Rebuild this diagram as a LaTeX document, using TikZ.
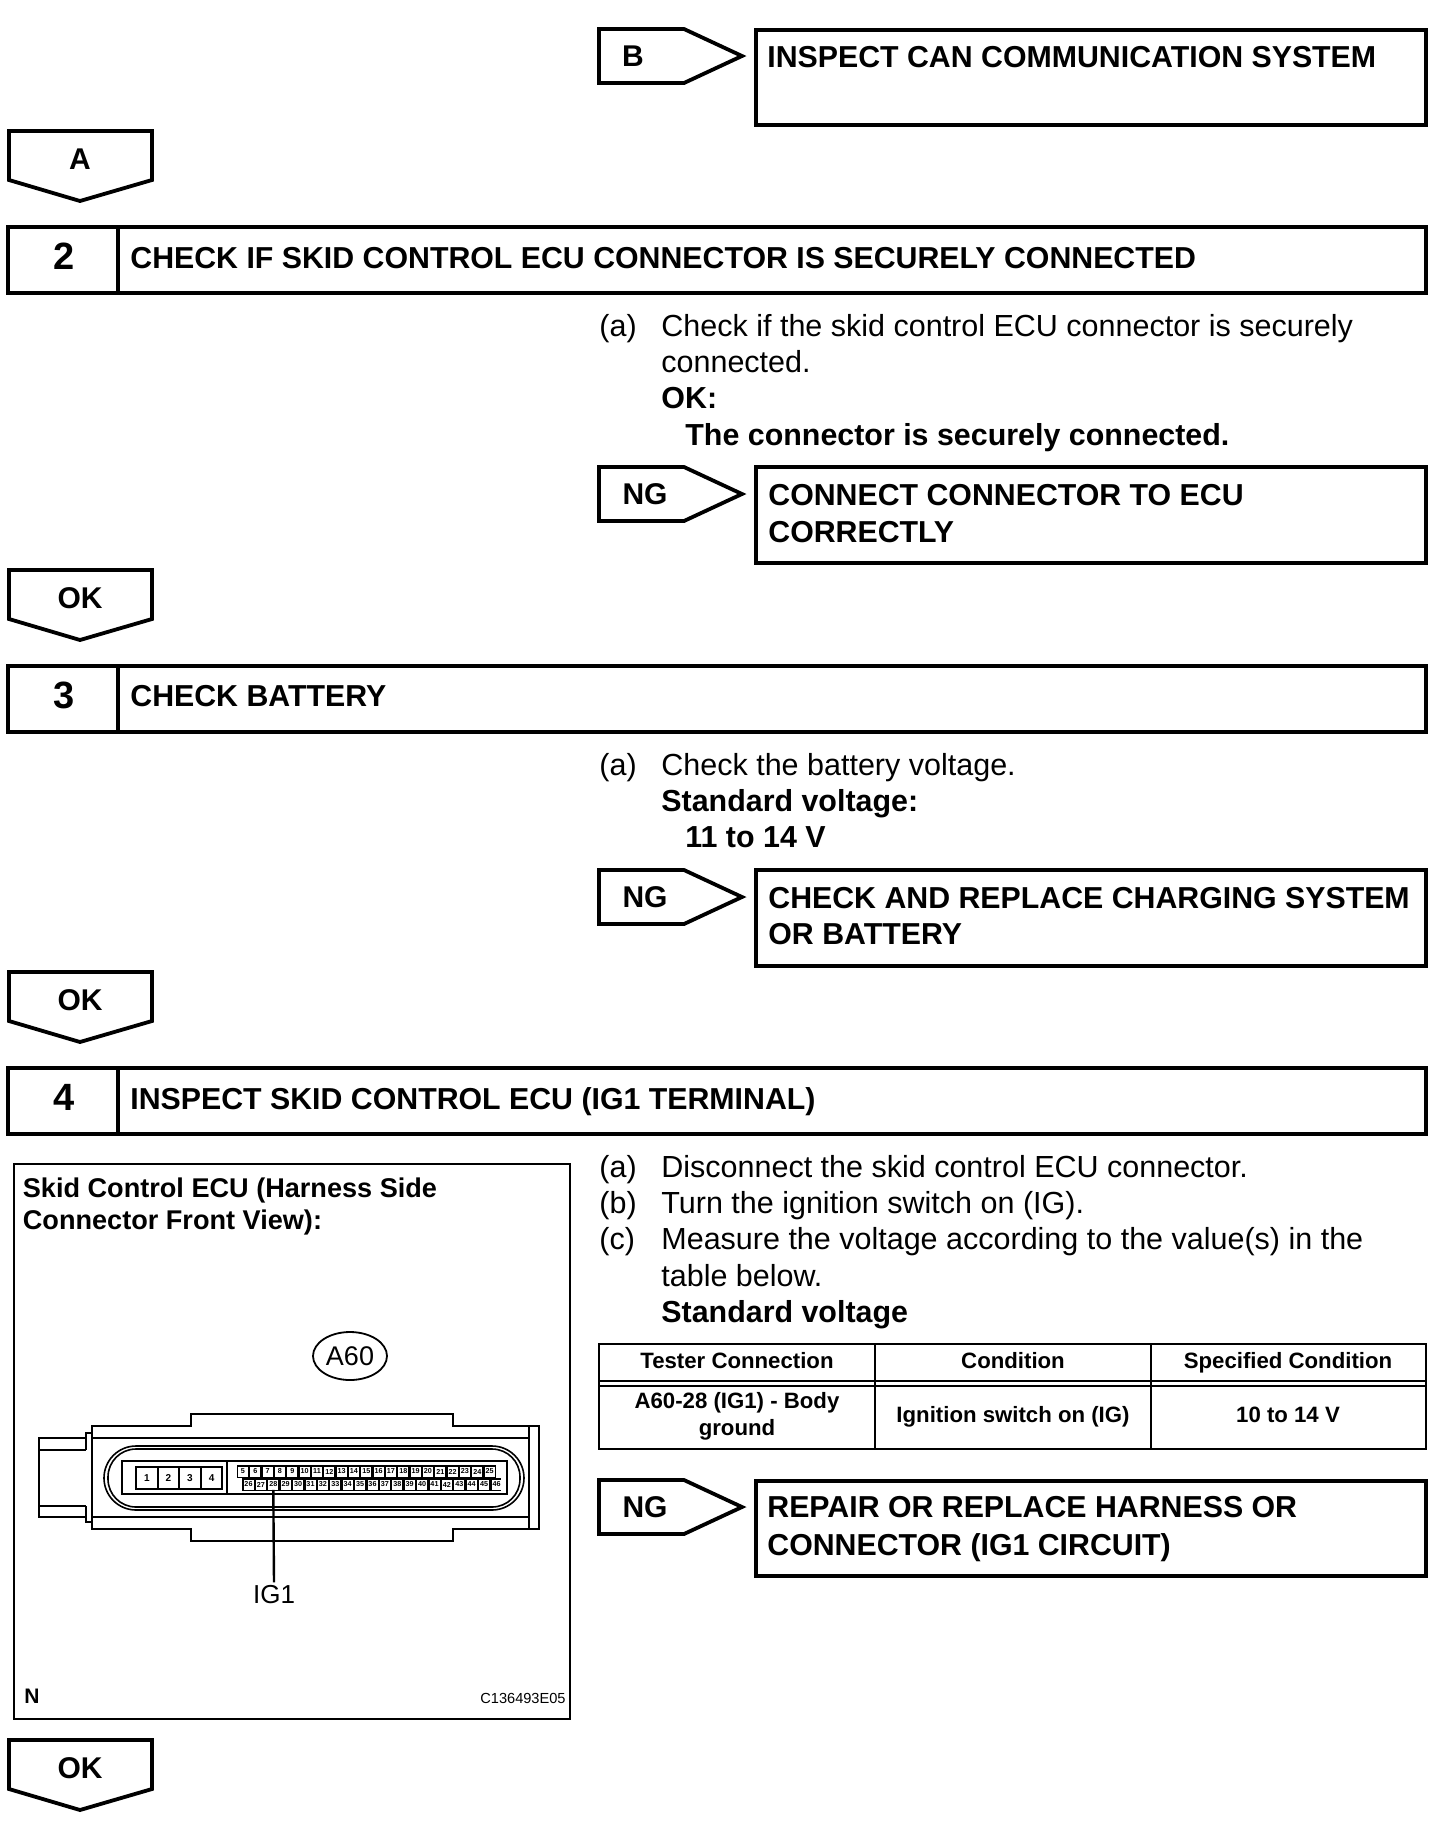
\documentclass[tikz,border=0pt]{standalone}
\usepackage{fontspec}
\setmainfont{Liberation Sans}
\usepackage{xcolor}
\usetikzlibrary{positioning,calc,shapes.geometric}

\begin{document}
\begin{tikzpicture}[x=0.5pt,y=-0.5pt,
    boxline/.style={line width=1.9pt,line join=miter},
    thinline/.style={line width=0.8pt},
    bodytxt/.style={anchor=base west,inner sep=0pt,yshift=1pt,font=\fontsize{15.25}{17}\selectfont},
    boldtxt/.style={anchor=base west,inner sep=0pt,yshift=1pt,font=\fontsize{15.2}{17}\selectfont\bfseries},
    headtxt/.style={anchor=base west,inner sep=0pt,yshift=1pt,font=\fontsize{15.15}{17}\selectfont\bfseries},
    numtxt/.style={anchor=base,inner sep=0pt,yshift=1pt,xshift=0.5pt,font=\fontsize{19}{20}\selectfont\bfseries},
    tagtxt/.style={anchor=base,inner sep=0pt,font=\fontsize{15}{17}\selectfont\bfseries},
    celltxt/.style={anchor=base,inner sep=0pt,font=\fontsize{11.1}{12}\selectfont\bfseries},
    paneltxt/.style={anchor=base west,inner sep=0pt,font=\fontsize{13.55}{14}\selectfont\bfseries},
    pintxt/.style={inner sep=0pt,font=\fontsize{5}{5}\selectfont\bfseries},
    pincell/.style={fill=white,minimum width=5pt,minimum height=5pt,inner sep=0pt,font=\fontsize{3.6}{4}\selectfont\bfseries}]
  \useasboundingbox (0,0) rectangle (1456,1832);
  % tags pointing right, in front of the result boxes
  \foreach \nm/\y/\lab/\lx in {tagb/29/B/633,ngone/467/NG/645,ngtwo/870/NG/645,ngthree/1480/NG/645}{
    \draw[boxline] (599,\y) -- (684,\y) -- (742,\y+27) -- (684,\y+54) -- (599,\y+54) -- cycle;
    \node[tagtxt] (\nm) at (\lx,\y+37) {\lab};}
  % tags pointing down, between the steps
  \foreach \nm/\y/\lab in {taga/131/A,okone/570/OK,oktwo/972/OK,okthree/1740/OK}{
    \draw[boxline] (9,\y) -- (152,\y) -- (152,\y+49) -- (80,\y+70) -- (9,\y+49) -- cycle;
    \node[tagtxt] (\nm) at (80,\y+38) {\lab};}
  % step bars
  \foreach \nm/\y/\num in {bartwo/227/2,barthree/666/3,barfour/1068/4}{
    \draw[boxline] (8,\y) rectangle (1426,\y+66);
    \draw[boxline] (118,\y) -- (118,\y+66);
    \node[numtxt] (\nm) at (63,\y+44) {\num};}
  \node[headtxt] (headtwo) at (130,270) {CHECK IF SKID CONTROL ECU CONNECTOR IS SECURELY CONNECTED};
  \node[headtxt] (headthree) at (130,708) {CHECK BATTERY};
  \node[headtxt] (headfour) at (130,1111) {INSPECT SKID CONTROL ECU (IG1 TERMINAL)};
  % result boxes
  \foreach \y/\h in {30/95,467/96,870/96,1481/95}
    \draw[boxline] (756,\y) rectangle (1426,\y+\h);
  \node[headtxt] (resb) at (767,69) {INSPECT CAN COMMUNICATION SYSTEM};
  \node[headtxt] (resonea) at (768,507) {CONNECT CONNECTOR TO ECU};
  \node[headtxt] (resoneb) at (768,544) {CORRECTLY};
  \node[headtxt] (restwoa) at (768,910) {CHECK AND REPLACE CHARGING SYSTEM};
  \node[headtxt] (restwob) at (768,946) {OR BATTERY};
  \node[headtxt] (resthreea) at (767,1519) {REPAIR OR REPLACE HARNESS OR};
  \node[headtxt] (resthreeb) at (767,1557) {CONNECTOR (IG1 CIRCUIT)};
  % step 2 text
  \node[bodytxt] (atwo) at (599,338) {(a)};
  \node[bodytxt] (linea) at (661,338) {Check if the skid control ECU connector is securely};
  \node[bodytxt] (lineb) at (661,374) {connected.};
  \node[boldtxt] (linec) at (661,410) {OK:};
  \node[boldtxt] (lined) at (685,447) {The connector is securely connected.};
  % step 3 text
  \node[bodytxt] (athree) at (599,777) {(a)};
  \node[bodytxt] (linee) at (661,777) {Check the battery voltage.};
  \node[boldtxt] (linef) at (661,813) {Standard voltage:};
  \node[boldtxt] (lineg) at (685,849) {11 to 14 V};
  % step 4 text
  \node[bodytxt] (afour) at (599,1179) {(a)};
  \node[bodytxt] (bfour) at (599,1215) {(b)};
  \node[bodytxt] (cfour) at (599,1251) {(c)};
  \node[bodytxt] (lineh) at (661,1179) {Disconnect the skid control ECU connector.};
  \node[bodytxt] (linei) at (661,1215) {Turn the ignition switch on (IG).};
  \node[bodytxt] (linej) at (661,1251) {Measure the voltage according to the value(s) in the};
  \node[bodytxt] (linek) at (661,1288) {table below.};
  \node[boldtxt] (linel) at (661,1324) {Standard voltage};
  % voltage table
  \draw[thinline] (599,1344) rectangle (1426,1449);
  \draw[thinline] (875,1344) -- (875,1449) (1151,1344) -- (1151,1449);
  \draw[thinline] (599,1381) -- (1426,1381) (599,1386) -- (1426,1386);
  \node[celltxt] (thone) at (737,1368) {Tester Connection};
  \node[celltxt] (thtwo) at (1013,1368) {Condition};
  \node[celltxt] (ththree) at (1288,1368) {Specified Condition};
  \node[celltxt] (tdonea) at (737,1408) {A60-28 (IG1) - Body};
  \node[celltxt] (tdoneb) at (737,1435) {ground};
  \node[celltxt] (tdtwo) at (1013,1422) {Ignition switch on (IG)};
  \node[celltxt] (tdthree) at (1288,1422) {10 to 14 V};
  % connector panel
  \draw[thinline] (14,1164) rectangle (570,1719);
  \node[paneltxt] (paneta) at (22.5,1197) {Skid Control ECU (Harness Side};
  \node[paneltxt] (panetb) at (22.5,1229) {Connector Front View):};
  \node[draw,ellipse,line width=0.9pt,minimum width=37pt,minimum height=24pt,inner sep=0pt,font=\fontsize{13.5}{15}\selectfont] (afsixty) at (350,1356) {A60};
  % housing outline
  \draw[line width=1.3pt] (92,1426) -- (191,1426) -- (191,1414) -- (453,1414) -- (453,1426) -- (539,1426)
    -- (539,1529) -- (453,1529) -- (453,1541) -- (191,1541) -- (191,1529) -- (92,1529) -- cycle;
  \draw[thinline] (92,1438) -- (529,1438) (92,1517) -- (529,1517) (529,1426) -- (529,1529);
  \draw[line width=1.3pt] (86,1438) -- (39,1438) -- (39,1517) -- (86,1517);
  \draw[thinline] (39,1450) -- (86,1450) (39,1506) -- (86,1506);
  \draw[thinline] (92,1433) -- (86,1433) -- (86,1450) (86,1506) -- (86,1522) -- (92,1522);
  \draw[thinline,rounded corners=16pt] (104,1446) rectangle (524,1510);
  \draw[thinline,rounded corners=14pt] (108,1449) rectangle (520,1507);
  \draw[thinline] (122,1461) rectangle (507,1494);
  \draw[thinline] (227,1461) -- (227,1494);
  % four large terminals
  \foreach \n in {1,...,4}{
    \draw[line width=1pt] ({136+(\n-1)*21.6},1467) rectangle ({136+\n*21.6},1489);
    \node[pintxt] (big\n) at ({136+(\n-0.5)*21.6},1478) {\n};}
  % signal terminals, black strip behind the white cells
  \fill (237,1465) rectangle (496,1478);
  \fill (242,1478) rectangle (501,1491);
  \foreach \n in {5,...,25}
    \node[pincell] (pin\n) at ({243+(\n-5)*12.33},1471.5) {\n};
  \foreach \n in {26,...,46}
    \node[pincell] (pin\n) at ({248.5+(\n-26)*12.4},1484.5) {\n};
  \node[inner sep=1.5pt,font=\fontsize{13}{15}\selectfont] (igone) at (274,1595) {IG1};
  \draw[line width=1.2pt] (pin28.south) -- (igone.north);
  \node[anchor=base west,inner sep=0pt,font=\fontsize{10.5}{12}\selectfont\bfseries] (nmark) at (24,1703) {N};
  \node[anchor=base east,inner sep=0pt,font=\fontsize{7.3}{8}\selectfont] (figcode) at (566,1703) {C136493E05};
\end{tikzpicture}
\end{document}
